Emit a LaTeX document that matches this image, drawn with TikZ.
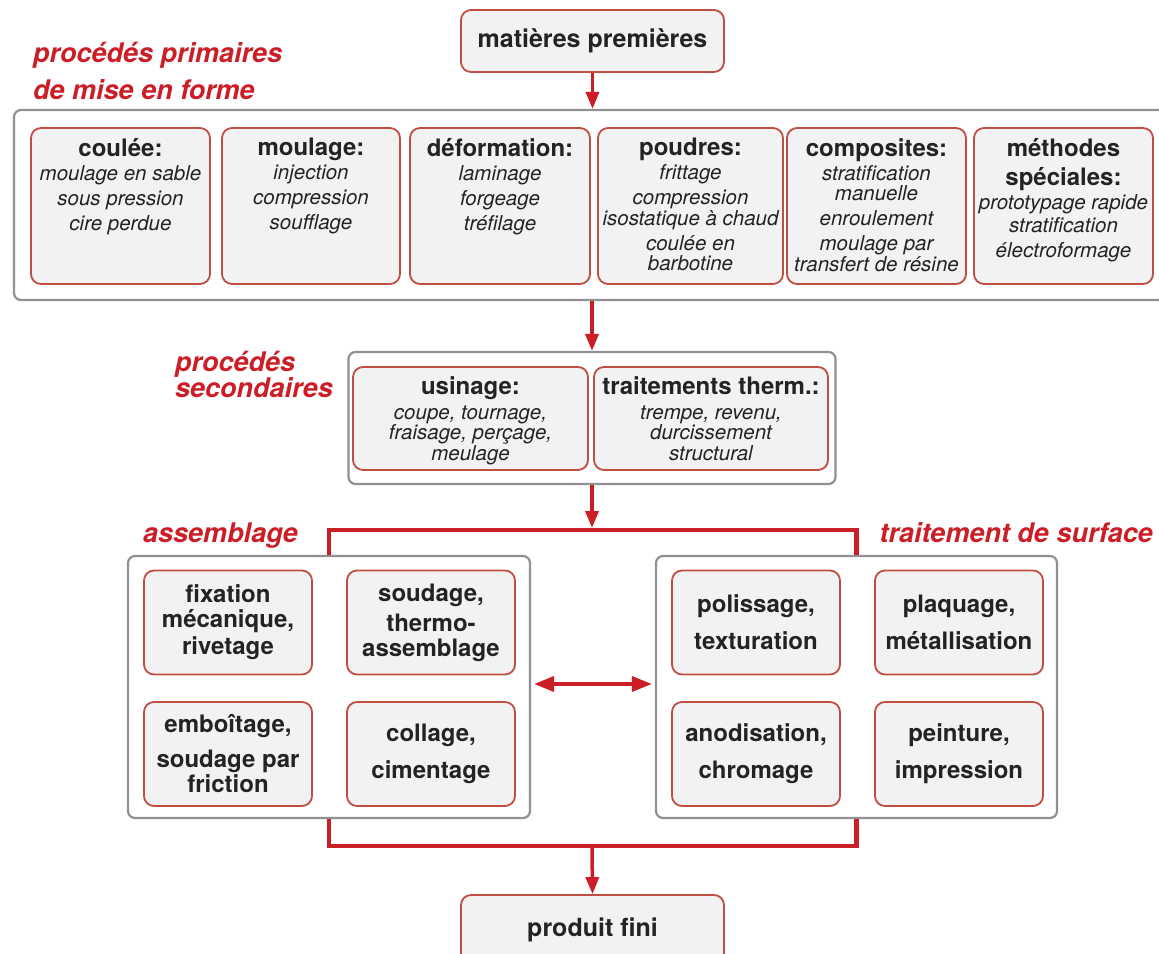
\documentclass[tikz,border=0pt]{standalone}
\usepackage{fontspec}
\setmainfont{TeX Gyre Heros}
\usepackage{tikz}
\usetikzlibrary{positioning}
\usetikzlibrary{arrows.meta}

\definecolor{ink}{RGB}{35,35,35}
\definecolor{flowred}{RGB}{204,30,38}
\definecolor{boxred}{RGB}{192,78,66}
\definecolor{boxfill}{RGB}{242,242,242}
\definecolor{framegray}{RGB}{145,145,148}
\newcommand{\hd}[1]{{\upshape\bfseries\fontsize{24}{27}\selectfont #1}}

\begin{document}
\begin{tikzpicture}[x=1pt,y=1pt,
	outerbox/.style={draw=framegray,line width=2.2pt,fill=white,rounded corners=7pt},
	subbox/.style={draw=boxred,line width=1.8pt,fill=boxfill,rounded corners=10pt},
	subtxt/.style={text=ink,align=center,inner sep=0pt,font=\itshape\fontsize{20.5}{20.5}\selectfont},
	gridbox/.style={subbox,text=ink,align=center,minimum width=168pt,minimum height=104pt,inner sep=0pt,font=\bfseries\fontsize{24}{25}\selectfont},
	captxt/.style={text=flowred,inner sep=0pt,font=\bfseries\itshape\fontsize{27}{37}\selectfont},
	redline/.style={draw=flowred,line width=4.5pt},
	redarrow/.style={draw=flowred,line width=3.5pt,-{Triangle[length=17pt,width=13pt]}}]
\useasboundingbox (0,0) rectangle (1159,-953);
\clip (0,0) rectangle (1159,-953);

% raw materials
\node[subbox,minimum width=263pt,minimum height=62pt,text=ink,font=\bfseries\fontsize{25}{27}\selectfont] (mp) at (592.5,-41) {matières premières};

% primary processes
\node[captxt,align=left,anchor=north west] (primcap) at (33,-42) {procédés primaires\\de mise en forme};
\node[outerbox,minimum width=1161pt,minimum height=190pt] (prim) at (594.5,-205) {};
\node[subbox,minimum width=179pt,minimum height=156pt] (coulee) at (120.5,-206) {};
\node[subbox,minimum width=178pt,minimum height=156pt] (moulage) at (311,-206) {};
\node[subbox,minimum width=180pt,minimum height=156pt] (deform) at (500,-206) {};
\node[subbox,minimum width=185pt,minimum height=156pt] (poudres) at (690.5,-206) {};
\node[subbox,minimum width=179pt,minimum height=156pt] (compos) at (876.5,-206) {};
\node[subbox,minimum width=179pt,minimum height=156pt] (methodes) at (1063.5,-206) {};
\node[subtxt,below=11pt of coulee.north] (coulee-t) {\hd{coulée:}\\[3.5pt]moulage en sable\\[4.5pt]sous pression\\[4.5pt]cire perdue};
\node[subtxt,below=11pt of moulage.north] (moulage-t) {\hd{moulage:}\\[3.5pt]injection\\[4.5pt]compression\\[4.5pt]soufflage};
\node[subtxt,below=11pt of deform.north] (deform-t) {\hd{déformation:}\\[3.5pt]laminage\\[4.5pt]forgeage\\[4.5pt]tréfilage};
\node[subtxt,below=11pt of poudres.north] (poudres-t) {\hd{poudres:}\\[3.5pt]frittage\\[4.5pt]compression\\isostatique à chaud\\[4.5pt]coulée en\\barbotine};
\node[subtxt,below=11pt of compos.north] (compos-t) {\hd{composites:}\\[3.5pt]stratification\\manuelle\\[4.5pt]enroulement\\[4.5pt]moulage par\\transfert de résine};
\node[subtxt,below=11pt of methodes.north] (methodes-t) {\hd{méthodes}\\[8.5pt]\hd{spéciales:}\\[3.5pt]prototypage rapide\\[2.5pt]stratification\\[4.5pt]électroformage};

% secondary processes
\node[captxt,align=left,anchor=north west] (seccap) at (175,-351) {procédés\\[-11pt]secondaires};
\node[outerbox,minimum width=487pt,minimum height=132pt] (sec) at (592,-418) {};
\node[subbox,minimum width=235pt,minimum height=103pt] (usinage) at (470.5,-418.5) {};
\node[subbox,minimum width=234pt,minimum height=103pt] (therm) at (711,-418.5) {};
\node[subtxt,below=10pt of usinage.north] (usinage-t) {\hd{usinage:}\\[4.5pt]coupe, tournage,\\fraisage, perçage,\\meulage};
\node[subtxt,below=10pt of therm.north] (therm-t) {\hd{traitements therm.:}\\[4.5pt]trempe, revenu,\\durcissement\\structural};

% assembly and surface treatment
\node[captxt,anchor=base west] (asmcap) at (143,-542) {assemblage};
\node[captxt,anchor=base east] (trtcap) at (1153,-542) {traitement de surface};
\node[outerbox,minimum width=402pt,minimum height=262pt] (asm) at (329,-687) {};
\node[outerbox,minimum width=401pt,minimum height=262pt] (trt) at (856.5,-687) {};
\node[gridbox] (fix) at (228,-622.5) {fixation\\mécanique,\\[2pt]rivetage};
\node[gridbox] (soud) at (431,-622.5) {soudage,\\[5pt]thermo-\\assemblage};
\node[gridbox] (emb) at (228,-754) {emboîtage,\\[10pt]soudage par\\friction};
\node[gridbox] (coll) at (431,-754) {collage,\\[12pt]cimentage};
\node[gridbox] (pol) at (756,-622.5) {polissage,\\[12pt]texturation};
\node[gridbox] (plaq) at (959,-622.5) {plaquage,\\[12pt]métallisation};
\node[gridbox] (anod) at (756,-754) {anodisation,\\[12pt]chromage};
\node[gridbox] (peint) at (959,-754) {peinture,\\[12pt]impression};

% finished product
\node[subbox,minimum width=263pt,minimum height=70pt,text=ink,font=\bfseries\fontsize{25}{27}\selectfont] (prod) at (592.5,-930) {produit fini};

% connectors
\coordinate (split) at (592,-530);
\coordinate (join) at (592,-846);
\draw[redarrow] (mp.south) -- (mp.south |- prim.north);
\draw[redarrow] (sec.north |- prim.south) -- (sec.north);
\draw[redarrow,shorten >=2pt] (sec.south) -- (split);
\draw[redline] (asm.north) |- (split) -| (trt.north);
\draw[redline] (asm.south) |- (join) -| (trt.south);
\draw[redarrow] (join) -- (prod.north);
\draw[redline,line width=3.5pt,{Triangle[length=20pt,width=15pt]}-{Triangle[length=20pt,width=15pt]},shorten <=3pt,shorten >=3pt] ([yshift=3pt]asm.east) -- ([yshift=3pt]trt.west);
\end{tikzpicture}
\end{document}
